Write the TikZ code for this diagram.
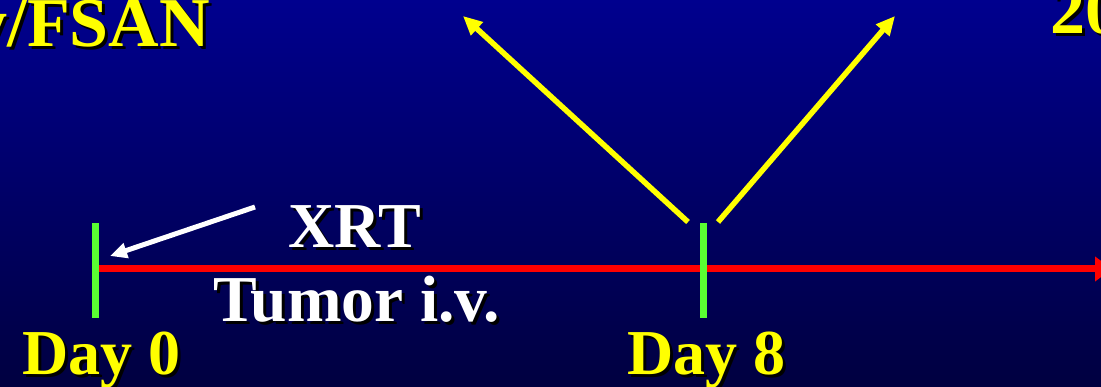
\documentclass[tikz,border=0pt]{standalone}
\usepackage{fontspec}
\setmainfont{Liberation Serif}
\usetikzlibrary{arrows.meta}
\definecolor{bgtop}{RGB}{0,0,142}
\definecolor{bgbot}{RGB}{0,0,64}
\definecolor{tlyellow}{RGB}{255,255,0}
\definecolor{tlgreen}{RGB}{90,255,50}
\definecolor{tlred}{RGB}{255,0,0}
\definecolor{shadowc}{RGB}{0,0,0}
\tikzset{
  big/.style={inner sep=0pt, font=\fontsize{64}{70}\selectfont\bfseries},
  bigger/.style={inner sep=0pt, font=\fontsize{65.5}{70}\selectfont\bfseries},
  title/.style={inner sep=0pt, font=\fontsize{70}{76}\selectfont\bfseries},
  shd/.style={big, text=shadowc},
  ytext/.style={big, text=tlyellow},
  wtext/.style={big, text=white},
  tshd/.style={title, text=shadowc},
  ttext/.style={title, text=tlyellow},
  tick/.style={draw=tlgreen, line width=7pt},
  timeline/.style={draw=tlred, line width=7pt, -{Triangle[length=17pt,width=24pt]}},
  yarrow/.style={draw=tlyellow, line width=5.5pt, -{Triangle[length=19pt,width=17pt]}},
  warrow/.style={draw=white, line width=5pt, -{Triangle[length=17pt,width=15pt]}},
}
\begin{document}
\begin{tikzpicture}[x=1pt,y=1pt]
\shade[top color=bgtop, bottom color=bgbot] (0,0) rectangle (1101,387);
\useasboundingbox (0,0) rectangle (1101,387);
% title fragments
\node[tshd, anchor=base east] (t1s) at (213,337) {y/FSAN};
\node[ttext, anchor=base east] (t1) at (210,340) {y/FSAN};
\node[tshd, anchor=base west] (t2s) at (1053,350) {20};
\node[ttext, anchor=base west] (t2) at (1050,353) {20};
% ticks
\coordinate (d0top) at (95,164);
\coordinate (d0bot) at (95,69);
\coordinate (d8top) at (703,164);
\coordinate (d8bot) at (703,69);
\coordinate (lstart) at (98,118);
\coordinate (lend) at (1112,118);
\draw[timeline] (lstart) -- (lend);
\draw[tick] (d0top) -- (d0bot);
\draw[tick] (d8top) -- (d8bot);
% yellow arrows
\coordinate (ya1s) at (688,165);
\coordinate (ya1e) at (463,371);
\coordinate (ya2s) at (718,165);
\coordinate (ya2e) at (895,371);
\draw[yarrow] (ya1s) -- (ya1e);
\draw[yarrow] (ya2s) -- (ya2e);
% white arrow
\coordinate (was) at (255,180);
\coordinate (wae) at (110,131);
\draw[warrow] (was) -- (wae);
% labels
\node[shd, anchor=base west] (xrts) at (291,136) {XRT};
\node[wtext, anchor=base west] (xrt) at (288,139) {XRT};
\node[bigger, text=shadowc, anchor=base west] (tums) at (216,62) {Tumor i.v.};
\node[bigger, text=white, anchor=base west] (tum) at (213,65) {Tumor i.v.};
\node[shd, anchor=base west] (d0s) at (25,9) {Day 0};
\node[ytext, anchor=base west] (d0) at (22,12) {Day 0};
\node[shd, anchor=base west] (d8s) at (630,9) {Day 8};
\node[ytext, anchor=base west] (d8) at (627,12) {Day 8};
\end{tikzpicture}
\end{document}
